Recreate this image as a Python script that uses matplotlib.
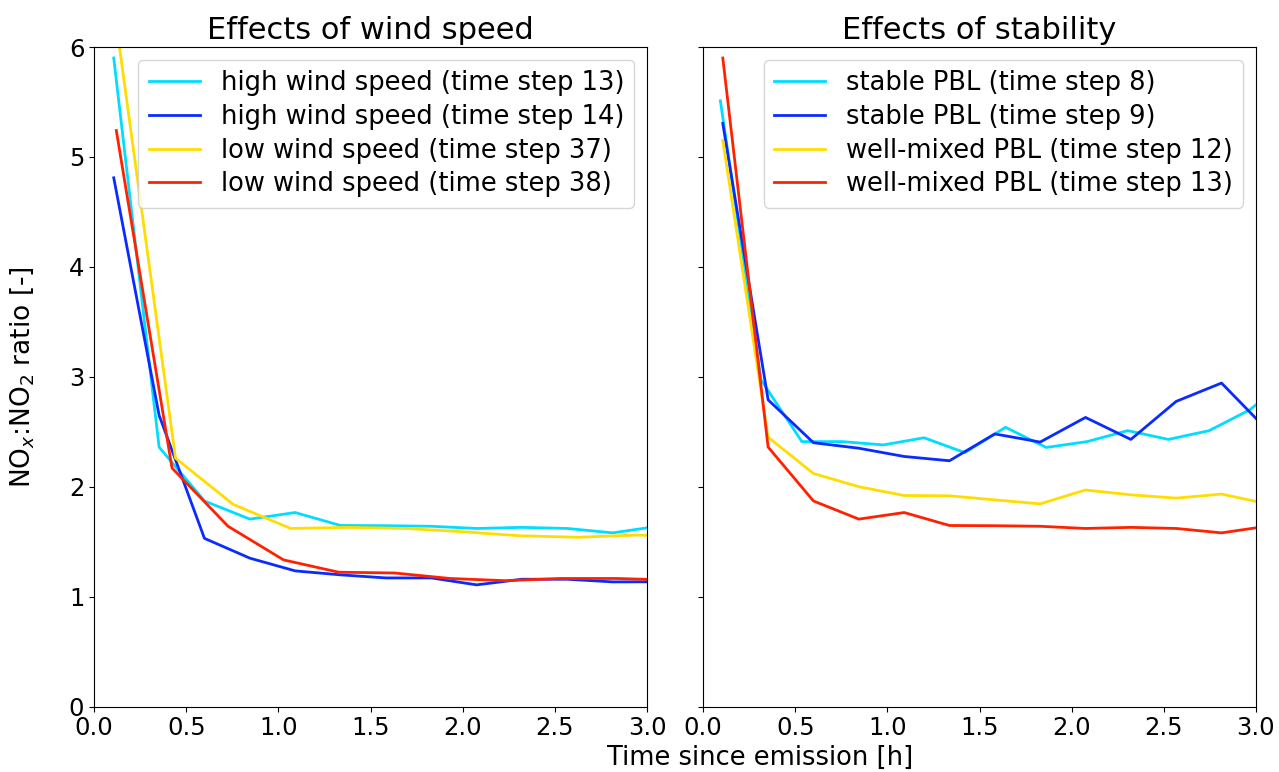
import numpy as np
import matplotlib
matplotlib.use("Agg")
import matplotlib.pyplot as plt

# colours of the four lines in each panel
c_cyan = "#00DDFF"
c_blue = "#0A2BFF"
c_yellow = "#FFDD00"
c_red = "#FF2200"

# ---- left panel: effects of wind speed ----
x_hi = [0.107, 0.353, 0.599, 0.845, 1.091, 1.337, 1.583, 1.829, 2.075, 2.321, 2.567, 2.813, 3.059]
hi_13 = [5.90, 2.36, 1.87, 1.705, 1.765, 1.647, 1.645, 1.64, 1.62, 1.63, 1.62, 1.58, 1.64]
hi_14 = [4.81, 2.65, 1.53, 1.35, 1.234, 1.198, 1.17, 1.17, 1.107, 1.158, 1.158, 1.134, 1.135]

x_lo37 = [0.13, 0.442, 0.754, 1.066, 1.378, 1.69, 2.002, 2.314, 2.626, 2.938, 3.25]
lo_37 = [6.1, 2.26, 1.84, 1.62, 1.63, 1.62, 1.59, 1.553, 1.54, 1.56, 1.55]
x_lo38 = [0.121, 0.423, 0.727, 1.028, 1.327, 1.629, 1.93, 2.23, 2.53, 2.835, 3.14]
lo_38 = [5.24, 2.17, 1.64, 1.334, 1.222, 1.215, 1.165, 1.145, 1.165, 1.165, 1.15]

# ---- right panel: effects of stability ----
x_st8 = [0.094, 0.315, 0.536, 0.757, 0.978, 1.199, 1.42, 1.641, 1.862, 2.083, 2.304, 2.525, 2.746, 2.967, 3.188]
st_8 = [5.51, 2.97, 2.41, 2.41, 2.38, 2.445, 2.31, 2.54, 2.357, 2.41, 2.51, 2.43, 2.51, 2.70, 3.0]
st_9 = [5.305, 2.79, 2.40, 2.35, 2.275, 2.236, 2.48, 2.406, 2.63, 2.43, 2.776, 2.943, 2.52]
wm_12 = [5.15, 2.45, 2.12, 2.00, 1.92, 1.917, 1.88, 1.844, 1.97, 1.926, 1.896, 1.933, 1.845]
wm_13 = hi_13

fs = 18.5
fig = plt.figure(figsize=(12.79, 7.72), dpi=100)
ax1 = fig.add_axes([0.0735, 0.0848, 0.4325, 0.8543])
ax2 = fig.add_axes([0.5497, 0.0848, 0.4323, 0.8543], sharey=ax1)

ax1.plot(x_hi, hi_13, color=c_cyan, lw=2, label="high wind speed (time step 13)")
ax1.plot(x_hi, hi_14, color=c_blue, lw=2, label="high wind speed (time step 14)")
ax1.plot(x_lo37, lo_37, color=c_yellow, lw=2, label="low wind speed (time step 37)")
ax1.plot(x_lo38, lo_38, color=c_red, lw=2, label="low wind speed (time step 38)")

ax2.plot(x_st8, st_8, color=c_cyan, lw=2, label="stable PBL (time step 8)")
ax2.plot(x_hi, st_9, color=c_blue, lw=2, label="stable PBL (time step 9)")
ax2.plot(x_hi, wm_12, color=c_yellow, lw=2, label="well-mixed PBL (time step 12)")
ax2.plot(x_hi, wm_13, color=c_red, lw=2, label="well-mixed PBL (time step 13)")

for ax in (ax1, ax2):
    ax.set_xlim(0, 3)
    ax.set_ylim(0, 6)
    ax.set_xticks(np.arange(0, 3.01, 0.5))
    ax.tick_params(labelsize=17.5)
    ax.legend(loc="upper right", fontsize=fs, labelspacing=0.3)

ax1.set_yticks(range(7))
plt.setp(ax2.get_yticklabels(), visible=False)

ax1.set_title("Effects of wind speed", fontsize=22)
ax2.set_title("Effects of stability", fontsize=22)
ax1.set_ylabel("NO$_x$:NO$_2$ ratio [-]", fontsize=19)
ax1.yaxis.set_label_coords(-0.105, 0.5)
fig.text(0.594, 0.018, "Time since emission [h]", fontsize=fs, ha="center", va="center")

fig.savefig("out.png", dpi=100)
